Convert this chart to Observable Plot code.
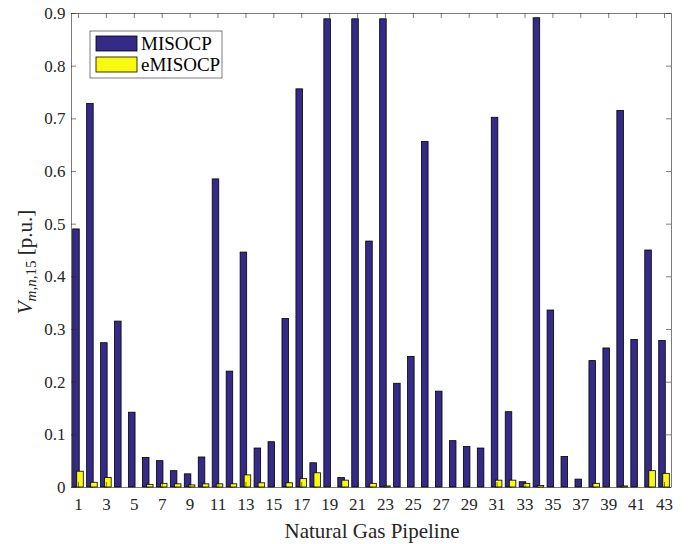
<!DOCTYPE html>
<html><head><meta charset="utf-8">
<script src="https://cdn.jsdelivr.net/npm/d3@7"></script>
<script src="https://cdn.jsdelivr.net/npm/@observablehq/plot@0.6"></script>
<style>body{margin:0;background:#fff}</style>
</head><body><div id="chart"></div>
<script>
const pipelines = d3.range(1, 44);
const misocp = [0.490,0.728,0.274,0.315,0.142,0.056,0.050,0.031,0.025,0.057,
  0.585,0.220,0.446,0.074,0.086,0.320,0.756,0.046,0.889,0.018,
  0.889,0.467,0.889,0.197,0.248,0.656,0.182,0.088,0.077,0.074,
  0.702,0.143,0.010,0.891,0.336,0.058,0.015,0.240,0.264,0.715,
  0.280,0.450,0.278];
const emisocp = [0.030,0.009,0.018,0,0,0.005,0.007,0.006,0.004,0.006,
  0.006,0.006,0.023,0.008,0,0.008,0.016,0.027,0,0.013,
  0,0.007,0.002,0,0,0,0,0,0,0,
  0.013,0.013,0.007,0.003,0,0,0,0.007,0,0.002,
  0,0.031,0.026];
const xTicks = pipelines.filter(d => d % 2 === 1);
const yTicks = d3.range(0, 10).map(d => d / 10);
const seriesNames = ["MISOCP", "eMISOCP"];
const colors = ["#352a87", "#f9fb0e"];

const dataA = pipelines.map((p, i) => ({p, v: misocp[i]}));
const dataB = pipelines.map((p, i) => ({p, v: emisocp[i]}));

const W = 697, H = 544, mL = 71, mR = 26, mT = 13, mB = 57;
const unitPx = (W - mL - mR) / 43;
const tickLen = 5;
const yPerPx = 0.9 / (H - mT - mB);
const font = "'Liberation Serif', 'DejaVu Serif', serif";

const plot = Plot.plot({
  width: W, height: H,
  marginLeft: mL, marginRight: mR, marginTop: mT, marginBottom: mB,
  style: {fontFamily: font, fontSize: "16px", color: "#262626", background: "#fff"},
  x: {domain: [0.5, 43.5], axis: null},
  y: {domain: [0, 0.9], axis: null},
  marks: [
    Plot.rectY(dataA, {x1: d => d.p - 0.38, x2: d => d.p + 0.09, y1: 0, y2: "v", fill: colors[0], stroke: "#000", strokeWidth: 0.8}),
    Plot.rectY(dataB.filter(d => d.v > 0), {x1: d => d.p - 0.09, x2: d => d.p + 0.38, y1: 0, y2: "v", fill: colors[1], stroke: "#000", strokeWidth: 0.8}),
    Plot.ruleX(xTicks, {x: d => d, y1: 0, y2: tickLen * yPerPx, stroke: "#262626", strokeWidth: 0.6}),
    Plot.ruleX(xTicks, {x: d => d, y1: 0.9 - tickLen * yPerPx, y2: 0.9, stroke: "#262626", strokeWidth: 0.6}),
    Plot.ruleY(yTicks, {y: d => d, x1: 0.5, x2: 0.5 + tickLen / unitPx, stroke: "#262626", strokeWidth: 0.6}),
    Plot.ruleY(yTicks, {y: d => d, x1: 43.5 - tickLen / unitPx, x2: 43.5, stroke: "#262626", strokeWidth: 0.6}),
    Plot.frame({stroke: "#262626", strokeWidth: 0.6}),
    Plot.axisX({ticks: xTicks, tickSize: 0, tickPadding: 10, tickFormat: d => String(d), label: null, fontSize: 17}),
    Plot.axisY({ticks: yTicks, tickSize: 0, tickPadding: 6, tickFormat: d => d === 0 ? "0" : d3.format(".1f")(d), label: null, fontSize: 17})
  ]
});

const svg = d3.select(plot);
// x label
svg.append("text").attr("x", mL + (W - mL - mR) / 2 + 1).attr("y", 538)
  .attr("text-anchor", "middle").attr("font-family", font).attr("font-size", 21)
  .attr("fill", "#262626").text("Natural Gas Pipeline");
// y label
const yl = svg.append("text")
  .attr("transform", `translate(32, 262) rotate(-90)`)
  .attr("text-anchor", "middle").attr("font-family", font).attr("font-size", 21).attr("fill", "#262626");
yl.append("tspan").attr("font-style", "italic").text("V");
yl.append("tspan").attr("font-style", "italic").attr("font-size", 15).attr("dy", 4).text("m,n,");
yl.append("tspan").attr("font-size", 15).text("15");
yl.append("tspan").attr("dy", -4).text(" [p.u.]");
// legend
const lg = svg.append("g").attr("font-family", font).attr("font-size", 19).attr("text-anchor", "start");
lg.append("rect").attr("x", 90).attr("y", 31).attr("width", 132).attr("height", 47)
  .attr("fill", "#fff").attr("stroke", "#262626").attr("stroke-width", 0.6);
seriesNames.forEach((n, i) => {
  lg.append("rect").attr("x", 96).attr("y", 36 + i * 21).attr("width", 41).attr("height", 15)
    .attr("fill", colors[i]).attr("stroke", "#000").attr("stroke-width", 0.8);
  lg.append("text").attr("x", 141).attr("y", 50 + i * 21).attr("fill", "#000").text(n);
});
document.getElementById("chart").appendChild(plot);
</script>
</body></html>
